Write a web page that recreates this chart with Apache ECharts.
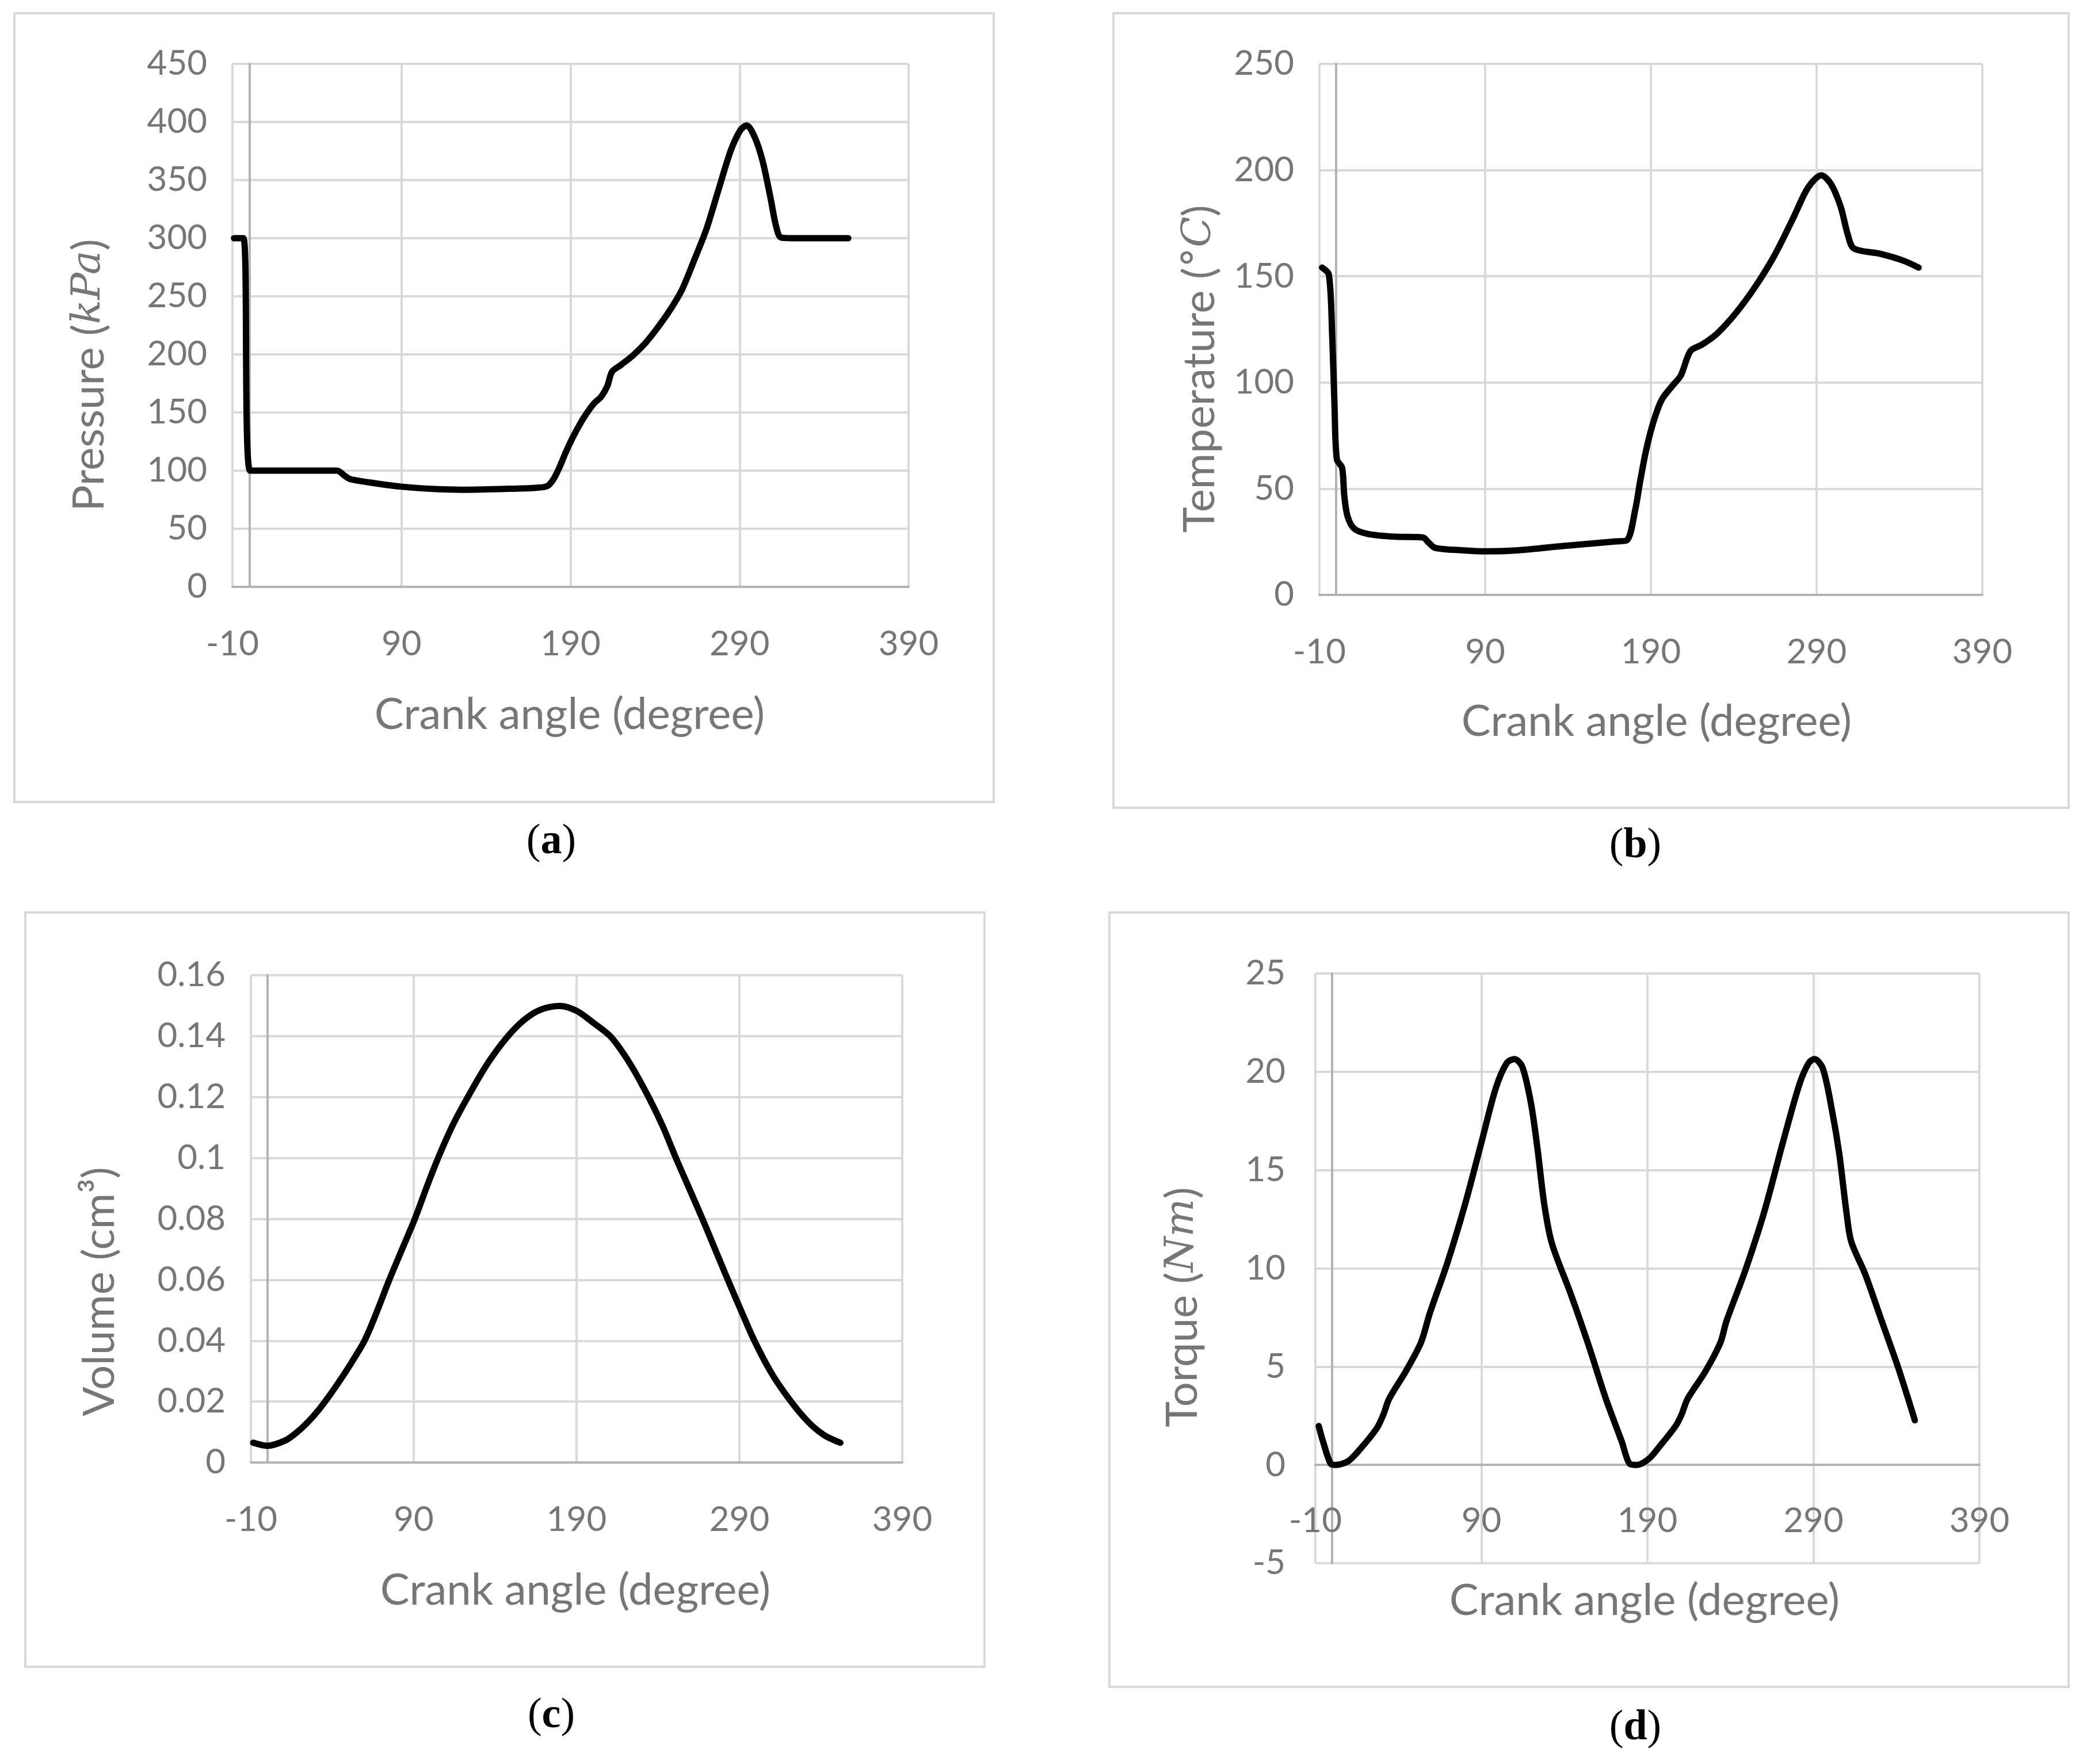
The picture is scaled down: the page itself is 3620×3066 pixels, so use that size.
<!DOCTYPE html>
<html>
<head>
<meta charset="utf-8">
<script src="https://cdn.jsdelivr.net/npm/echarts@6/dist/echarts.min.js"></script>
<style>
html,body{margin:0;padding:0;background:#fff;}
#c{width:3620px;height:3066px;}
</style>
</head>
<body>
<div id="c"></div>
<script>
// ---------- data ----------
const angleA = [-9.1,-3.5,0.4,10,30,51.8,56.4,59.7,75,90,111.9,124.9,151,169,176.2,179.9,183.5,187.8,192.2,198,203.8,208.1,211.7,214.6,219.7,226.9,234.1,241.4,248.6,255.8,263,270.3,277.5,284.8,290.6,294.2,299.3,303.6,308,311.6,314.5,321,340,354.3];
const pressure = [300,300,100,100,100,100,95.6,92.7,89,86.2,84,83.6,84.3,85.2,86.7,92.6,103,117.8,131,145.9,157.7,163.6,172.5,185.2,190.8,199.1,209.5,222.8,237.6,255.3,280.5,307.4,341.4,375.4,393.2,397,385.8,366.6,337,310.4,300.6,300,300,300];

const angleB = [-8.4,-4.3,-2.3,-0.9,0.5,3.7,5,7,11.1,19.3,35.5,52.5,55.9,59.9,76.2,91,110,137.1,169,175.5,180.6,183.5,187.1,191.4,196.5,203.8,208.1,213.9,221.2,229.9,241.4,253,264.6,276.2,284.9,292.9,298.7,304.5,308.8,312.5,327.7,342.2,351.6];
const temperature = [154.1,150.8,122,89.3,63.9,59.8,46.7,36.9,31.1,28.7,27.4,27,24.6,22.1,21,20.5,21,23,25.2,25.7,40.2,53.3,68,81.1,91.8,99.2,103.3,114.8,118,123,132.8,145.1,159.8,177.9,191.8,197.5,193.4,182.8,169.7,163.1,160.7,157.4,154.1];

const angleC = [-8.6,0,11,18,24.7,31.5,38.3,45,52,59.8,67,75,83,90.7,98,105,114,122.7,135,147.1,158,168,179.8,190,200,211,223,234.7,243,251,259,267.3,275,282.9,291,299.2,309,319.5,331.6,342,352];
const volume = [0.0065,0.0055,0.0072,0.0098,0.0131,0.0172,0.022,0.0272,0.033,0.04,0.049,0.06,0.0702,0.08,0.0905,0.1,0.1108,0.1195,0.1307,0.1395,0.1454,0.1487,0.1499,0.1483,0.1445,0.1398,0.1308,0.1195,0.1103,0.1,0.0902,0.08,0.0701,0.06,0.0499,0.04,0.03,0.0216,0.0137,0.009,0.0065];

const angleD = [-8,-5.4,-0.7,2,9.9,17.8,27.1,31,34.4,44.3,53.6,58.9,69.5,80.1,90,98.7,105.3,109.9,114.6,119.9,123.9,127.9,132.5,143.8,154.4,165,174.5,179.4,183.4,190.7,197.8,207,210.6,214.2,224.8,234,237.6,248.9,260.3,271.6,281.6,287.2,290.7,295.7,301.3,305.6,309.9,312.8,321.3,331.2,341.1,351.1];
const torque = [1.98,1.19,0.05,0,0.2,0.89,1.88,2.57,3.36,4.74,6.23,7.71,10.28,13.24,16.4,19.17,20.45,20.65,20.26,18.38,16.01,13.24,11.26,8.7,6.13,3.36,1.2,0.05,0,0.3,0.99,1.98,2.57,3.36,4.74,6.23,7.31,9.88,12.85,16.4,19.37,20.45,20.65,20.16,17.98,15.81,12.85,11.36,9.68,7.31,4.94,2.27];

const xAxisTitle = 'Crank angle (degree)';
const yRanges = [[0,450,50],[0,250,50],[0,0.16,0.02],[-5,25,5]];
const xRange = [-10,390,100];
const captions = ['a','b','c','d'];

// ---------- layout / style ----------
const GRAY = '#767676';
const SANS = 'Lato';
const TICK_FS = 60;
const TITLE_FS = 76;
const grids = [
  {left:404, top:111, width:1175, height:909},
  {left:2293, top:111, width:1152, height:923},
  {left:436, top:1695, width:1132, height:847},
  {left:2286, top:1692, width:1154, height:1025}
];
const borders = [
  [25,23,1702,1371],[1935,23,1660,1381],[44,1586,1667,1311],[1928,1586,1667,1346]
];
const xLabelMargin = [70,70,70,-103];
const yLabelMargin = [44,44,44,52];
const xTitlePos = [[990,1242],[2879,1254],[1000,2764],[2858,2782]];
const yTitlePos = [[155,652],[2085,641],[173,2245],[2055,2272]];
const capPos = [[958,1464],[2842,1471],[958,2983],[2842,3004]];

const zip = (xs, ys) => xs.map((x,i) => [x, ys[i]]);
const seriesData = [zip(angleA,pressure), zip(angleB,temperature), zip(angleC,volume), zip(angleD,torque)];

const chart = echarts.init(document.getElementById('c'), null, {renderer:'canvas'});

const xAxes = [], yAxes = [], series = [];
for (let i=0;i<4;i++){
  xAxes.push({
    type:'value', gridIndex:i, min:xRange[0], max:xRange[1], interval:xRange[2],
    axisLine:{show:true, onZero:true, lineStyle:{color:'#b3b3b3', width:4}},
    axisTick:{show:false},
    splitLine:{show:true, showMinLine:true, showMaxLine:true, lineStyle:{color:'#d9d9d9', width:4}},
    axisLabel:{color:GRAY, fontSize:TICK_FS, fontFamily:SANS, margin:xLabelMargin[i], showMinLabel:true, showMaxLabel:true}
  });
  yAxes.push({
    type:'value', gridIndex:i, min:yRanges[i][0], max:yRanges[i][1], interval:yRanges[i][2],
    axisLine:{show:true, onZero:true, lineStyle:{color:'#b3b3b3', width:4}},
    axisTick:{show:false},
    splitLine:{show:true, showMinLine:true, showMaxLine:true, lineStyle:{color:'#d9d9d9', width:4}},
    axisLabel:{color:GRAY, fontSize:TICK_FS, fontFamily:SANS, margin:yLabelMargin[i], showMinLabel:true, showMaxLabel:true,
      formatter: v => String(+v.toFixed(4))}
  });
  series.push({
    type:'line', xAxisIndex:i, yAxisIndex:i, data:seriesData[i],
    showSymbol:false, smooth:0.3, animation:false,
    lineStyle:{color:'#000', width:11, cap:'round', join:'round'}, z:5
  });
}

const yTitles = [
  '{n|Pressure (}{m|kPa}{n|)}',
  '{n|Temperature (}{m|°C}{n|)}',
  '{n|Volume (cm³)}',
  '{n|Torque (}{m|Nm}{n|)}'
];
const rich = {
  n:{fontFamily:SANS, fontSize:TITLE_FS, fill:GRAY, color:GRAY},
  m:{fontFamily:'DejaVu Serif', fontStyle:'italic', fontSize:TITLE_FS-6, fill:GRAY, color:GRAY}
};

const graphic = [];
for (let i=0;i<4;i++){
  const b = borders[i];
  graphic.push({type:'rect', z:-1, shape:{x:b[0], y:b[1], width:b[2], height:b[3]},
    style:{fill:'none', stroke:'#d9d9d9', lineWidth:4}});
  graphic.push({type:'text', x:xTitlePos[i][0], y:xTitlePos[i][1],
    style:{text:xAxisTitle, x:0, y:0, fill:GRAY, fontSize:TITLE_FS, fontFamily:SANS, textAlign:'center', textVerticalAlign:'middle'}});
  graphic.push({type:'text', x:yTitlePos[i][0], y:yTitlePos[i][1], rotation:Math.PI/2,
    style:{text:yTitles[i], x:0, y:0, rich:rich, fill:GRAY, textAlign:'center', textVerticalAlign:'middle'}});
  graphic.push({type:'text', x:capPos[i][0], y:capPos[i][1],
    style:{text:'{p|(}{b|'+captions[i]+'}{p|)}', x:0, y:0, textAlign:'center', textVerticalAlign:'middle',
      rich:{p:{fontFamily:'Liberation Serif', fontSize:74, fill:'#000'}, b:{fontFamily:'Liberation Serif', fontWeight:'bold', fontSize:74, fill:'#000'}}}});
}

chart.setOption({
  backgroundColor:'#fff',
  animation:false,
  grid: grids.map(g => Object.assign({containLabel:false, outerBoundsMode:'none'}, g)),
  xAxis:xAxes, yAxis:yAxes, series:series, graphic:graphic
});
</script>
</body>
</html>
